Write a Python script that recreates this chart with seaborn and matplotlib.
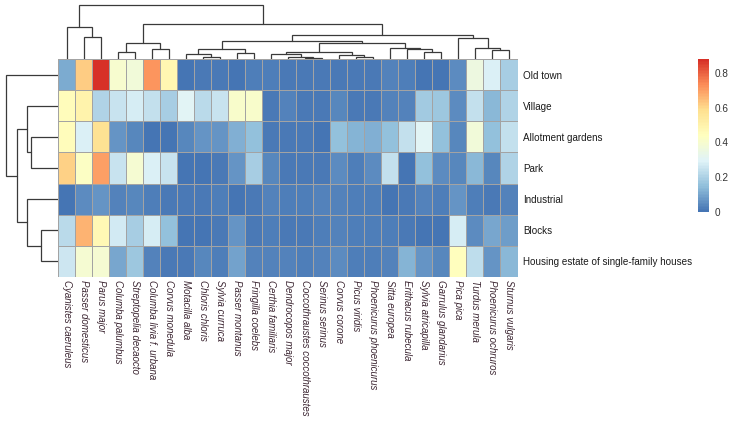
import numpy as np
import pandas as pd
import matplotlib
matplotlib.use("Agg")
import matplotlib.pyplot as plt
from matplotlib.colors import LinearSegmentedColormap
import seaborn as sns

# columns (species) in the order they appear after clustering
species = ["Cyanistes caeruleus", "Passer domesticus", "Parus major", "Columba palumbus",
           "Streptopelia decaocto", "Columba livia f. urbana", "Corvus monedula",
           "Motacilla alba", "Chloris chloris", "Sylvia curruca", "Passer montanus",
           "Fringilla coelebs", "Certhia familiaris", "Dendrocopos major",
           "Coccothraustes coccothraustes", "Serinus serinus", "Corvus corone",
           "Picus viridis", "Phoenicurus phoenicurus", "Sitta europea",
           "Erithacus rubecula", "Sylvia atricapilla", "Garrulus glandarius",
           "Pica pica", "Turdus merula", "Phoenicurus ochruros", "Sturnus vulgaris"]

sites = ["Old town", "Village", "Allotment gardens", "Park", "Industrial", "Blocks",
         "Housing estate of single-family houses"]

old_town = [0.11, 0.62, 0.88, 0.40, 0.37, 0.72, 0.48, 0.00, 0.01, 0.01, 0.00, 0.02, 0.02, 0.01,
            0.01, 0.01, 0.01, 0.01, 0.01, 0.03, 0.02, 0.00, 0.00, 0.05, 0.36, 0.29, 0.19]
village = [0.45, 0.50, 0.21, 0.25, 0.28, 0.24, 0.19, 0.30, 0.22, 0.25, 0.41, 0.41, 0.01, 0.03,
           0.01, 0.01, 0.04, 0.01, 0.01, 0.03, 0.03, 0.18, 0.17, 0.05, 0.24, 0.14, 0.21]
allotment = [0.45, 0.29, 0.58, 0.07, 0.04, 0.00, 0.00, 0.04, 0.07, 0.07, 0.12, 0.15, 0.01, 0.01,
             0.01, 0.00, 0.15, 0.13, 0.12, 0.15, 0.24, 0.30, 0.15, 0.04, 0.37, 0.15, 0.24]
park = [0.61, 0.43, 0.70, 0.25, 0.39, 0.29, 0.25, 0.00, 0.00, 0.01, 0.07, 0.19, 0.04, 0.01,
        0.01, 0.01, 0.05, 0.02, 0.05, 0.24, 0.00, 0.15, 0.05, 0.04, 0.14, 0.04, 0.21]
industrial = [0.00, 0.05, 0.07, 0.03, 0.04, 0.02, 0.01, 0.01, 0.01, 0.02, 0.00, 0.01, 0.03, 0.02,
              0.02, 0.03, 0.03, 0.02, 0.02, 0.00, 0.01, 0.03, 0.02, 0.07, 0.02, 0.01, 0.03]
blocks = [0.22, 0.66, 0.47, 0.27, 0.19, 0.28, 0.15, 0.00, 0.00, 0.01, 0.07, 0.01, 0.02, 0.01,
          0.01, 0.02, 0.03, 0.02, 0.02, 0.02, 0.01, 0.00, 0.00, 0.28, 0.05, 0.10, 0.08]
housing = [0.26, 0.39, 0.39, 0.10, 0.17, 0.03, 0.01, 0.01, 0.04, 0.02, 0.09, 0.03, 0.03, 0.03,
           0.02, 0.03, 0.05, 0.02, 0.02, 0.03, 0.13, 0.07, 0.04, 0.44, 0.23, 0.07, 0.14]

# merge trees: (left, right, height); new cluster ids start at n
col_merges = [(14, 15, 0.8), (13, 27, 1.5), (17, 18, 2.3), (8, 9, 2.3), (16, 29, 4.0),
              (12, 28, 4.5), (7, 30, 4.7), (10, 11, 6.3), (32, 31, 6.7), (21, 22, 6.7),
              (3, 4, 7.0), (25, 26, 9.0), (20, 36, 9.7), (33, 34, 10.0), (5, 6, 10.0),
              (19, 39, 10.7), (24, 38, 11.0), (35, 42, 15.7), (37, 41, 16.0), (40, 44, 18.3),
              (23, 43, 21.0), (1, 2, 22.0), (46, 47, 24.0), (0, 48, 32.0), (45, 49, 34.5),
              (50, 51, 54.0)]
row_merges = [(5, 6, 17), (2, 3, 27), (1, 8, 31), (4, 7, 31), (9, 10, 41), (0, 11, 52)]

df = pd.DataFrame([old_town, village, allotment, park, industrial, blocks, housing],
                  index=sites, columns=species)

# pheatmap default palette: reversed RdYlBu (7)
cmap = LinearSegmentedColormap.from_list(
    "rdylbu_r", ["#4575B4", "#91BFDB", "#E0F3F8", "#FFFFBF", "#FEE090", "#FC8D59", "#D73027"], N=100)


def dendro_segments(merges, n):
    pos = {i: i + 0.5 for i in range(n)}
    hgt = {i: 0.0 for i in range(n)}
    segs = []
    for k, (a, b, h) in enumerate(merges):
        segs.append(([pos[a], pos[a], pos[b], pos[b]], [hgt[a], h, h, hgt[b]]))
        pos[n + k] = (pos[a] + pos[b]) / 2
        hgt[n + k] = h
    return segs


sns.set_style("white")
plt.rcParams['font.family'] = ['Liberation Sans', 'DejaVu Sans']

W, H = 730, 422
fig = plt.figure(figsize=(W / 100, H / 100), dpi=100)


def box(x0, y0, x1, y1):
    return [x0 / W, 1 - y1 / H, (x1 - x0) / W, (y1 - y0) / H]


ax = fig.add_axes(box(58, 59, 517.5, 277))
ax_col = fig.add_axes(box(58, 2, 517.5, 59))
ax_row = fig.add_axes(box(3.4, 59, 58, 277))
cax = fig.add_axes(box(698, 59, 709, 212))

sns.heatmap(df, ax=ax, cmap=cmap, vmin=0, vmax=0.88, linewidths=0.7, linecolor="#A3A3A3",
            cbar_ax=cax, cbar_kws={"ticks": [0, 0.2, 0.4, 0.6, 0.8]})

ax.yaxis.tick_right()
ax.set_yticks(np.arange(len(sites)) + 0.5)
ax.set_yticklabels(sites, rotation=0, fontsize=7.1, color="#1a1a1a")
ax.set_xticks(np.arange(len(species)) + 0.5)
ax.set_xticklabels(species, rotation=270, fontsize=7.0, style="italic", color="#3d2733",
                   ha="center", va="top")
ax.tick_params(axis="both", length=0)
ax.tick_params(axis="y", pad=4)
ax.tick_params(axis="x", pad=2.5)
ax.set_xlabel("")
ax.set_ylabel("")

cbar = ax.collections[0].colorbar
cbar.outline.set_visible(False)
cbar.ax.tick_params(length=0, labelsize=7.2, labelcolor="#333333", pad=4)
cbar.set_ticklabels(["0", "0.2", "0.4", "0.6", "0.8"])

for xs, ys in dendro_segments(col_merges, len(species)):
    ax_col.plot(xs, ys, color="#3a3a3a", lw=0.9, solid_joinstyle="miter")
ax_col.set_xlim(0, len(species))
ax_col.set_ylim(0, 54 * 1.05)
ax_col.axis("off")

for xs, ys in dendro_segments(row_merges, len(sites)):
    ax_row.plot(ys, xs, color="#3a3a3a", lw=0.9, solid_joinstyle="miter")
ax_row.set_ylim(len(sites), 0)
ax_row.set_xlim(52 * 1.05, 0)
ax_row.axis("off")

fig.savefig("out.png", dpi=100)
